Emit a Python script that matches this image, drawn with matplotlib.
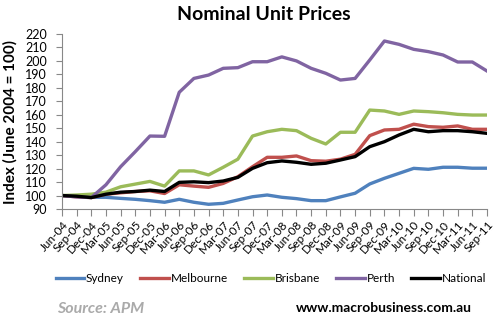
import matplotlib.pyplot as plt

quarters = ['Jun-04', 'Sep-04', 'Dec-04', 'Mar-05', 'Jun-05', 'Sep-05', 'Dec-05', 'Mar-06',
            'Jun-06', 'Sep-06', 'Dec-06', 'Mar-07', 'Jun-07', 'Sep-07', 'Dec-07', 'Mar-08',
            'Jun-08', 'Sep-08', 'Dec-08', 'Mar-09', 'Jun-09', 'Sep-09', 'Dec-09', 'Mar-10',
            'Jun-10', 'Sep-10', 'Dec-10', 'Mar-11', 'Jun-11', 'Sep-11']

sydney = [100, 99.4, 98.7, 98.7, 97.9, 97.2, 96.2, 95, 97.2, 95, 93.5, 94.2, 96.7, 99.1, 100.4,
          98.7, 97.7, 96.2, 96.2, 99, 101.7, 108.6, 112.8, 116.5, 120.2, 119.5, 121, 121, 120.3, 120.3]
melbourne = [100, 99, 98.5, 101, 102, 103, 103.5, 101.5, 108, 107, 106.1, 109, 114, 121.4, 128.4,
             128.4, 129.4, 125.9, 125.5, 127, 130.6, 144.5, 148.7, 149.2, 153, 151.2, 150.7, 151.7, 149.2, 149.2]
brisbane = [100, 100.4, 101, 102.5, 106.5, 108.5, 110.5, 107, 118.3, 118.3, 115.3, 121, 127, 144.2, 147.4,
            149.2, 148.2, 142.5, 138.3, 147, 147, 163.5, 162.8, 160.3, 162.8, 162.3, 161.5, 160.3, 159.8, 159.8]
perth = [100, 99, 98.5, 108, 121.4, 132.6, 144.2, 144, 176.7, 187, 189.5, 194.5, 195, 199.4, 199.4,
         203, 200, 194.5, 190.8, 185.8, 187, 200.7, 214.8, 212.3, 208.6, 206.9, 204.4, 199.2, 199.2, 192.5]
national = [100, 99.5, 98.5, 101, 102.5, 103, 104, 103, 109.8, 110.2, 109.6, 110.8, 113.5, 120.2, 124.4,
            125.7, 124.7, 123.2, 124, 126.4, 128.9, 136.3, 140, 145, 149.2, 147.4, 148.2, 148.2, 147.4, 146.2]

plt.rcParams['font.family'] = ['Lato', 'DejaVu Sans']

fig = plt.figure(figsize=(4.97, 3.26), dpi=100)
ax = fig.add_axes([62/497, 1-209/326, 425/497, 175/326])

x = list(range(len(quarters)))
lw = 2.4
ax.plot(x, sydney, color='#4F81BD', lw=lw, label='Sydney')
ax.plot(x, melbourne, color='#C0504D', lw=lw, label='Melbourne')
ax.plot(x, brisbane, color='#9BBB59', lw=lw, label='Brisbane')
ax.plot(x, perth, color='#8064A2', lw=lw, label='Perth')
ax.plot(x, national, color='black', lw=lw, label='National')

ax.set_xlim(0, len(quarters) - 1)
ax.set_ylim(90, 220)
ax.set_yticks(range(90, 221, 10))
ax.set_xticks(x)
ax.set_xticklabels(quarters, rotation=48, ha='right', rotation_mode='anchor', fontsize=8.5)
ax.tick_params(axis='y', labelsize=9, length=4, color='#888888', pad=7)
ax.tick_params(axis='x', length=5, color='#888888', pad=2)
for s in ['top', 'right']:
    ax.spines[s].set_visible(False)
for s in ['left', 'bottom']:
    ax.spines[s].set_color('#888888')

ax.set_ylabel('Index (June 2004 = 100)', fontsize=11, fontweight='bold', labelpad=5)
fig.text(264/497, 1-15/326, 'Nominal Unit Prices', ha='center', va='center', fontsize=14, fontweight='bold')

ax.legend(loc='center', bbox_to_anchor=(271/497, 1-279/326), bbox_transform=fig.transFigure,
          ncol=5, frameon=False, fontsize=8.5, handlelength=2.4, columnspacing=1.4, handletextpad=0.15)

fig.text(57/497, 1-309/326, 'Source: APM', ha='left', va='center', fontsize=11.5,
         fontweight='bold', style='italic', color='#AAAAAA')
fig.text(472/497, 1-308/326, 'www.macrobusiness.com.au', ha='right', va='center', fontsize=10,
         fontweight='bold', color='black')

fig.savefig('out.png', dpi=100)
